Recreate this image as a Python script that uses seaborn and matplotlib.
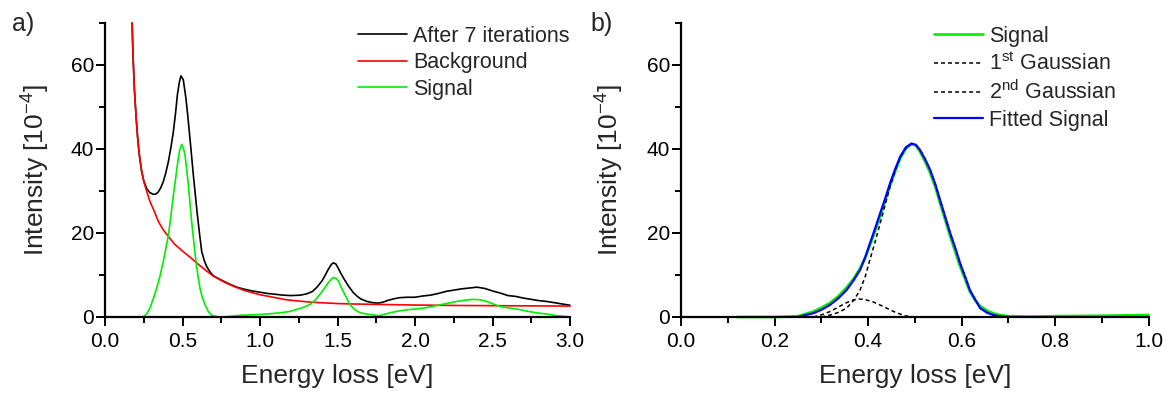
import numpy as np
import pandas as pd
import matplotlib
matplotlib.use("Agg")
import matplotlib.pyplot as plt
import seaborn as sns
from matplotlib.ticker import MultipleLocator

# ---------------- data ----------------
# Panel a
bg_x = [0.175, 0.18, 0.19, 0.20, 0.21, 0.22, 0.235, 0.25, 0.27, 0.29, 0.32, 0.345, 0.375, 0.41, 0.45,
        0.5, 0.55, 0.6, 0.65, 0.7, 0.77, 0.83, 0.9, 1.0, 1.1, 1.17, 1.25, 1.34, 1.45, 1.5, 1.6, 1.75,
        2.0, 2.25, 2.5, 2.75, 3.0]
bg_y = [70, 63, 54, 48, 43, 39, 35, 32.3, 29.8, 27.5, 25.0, 22.7, 20.8, 19.1, 17.3,
        15.7, 14.2, 12.6, 11.1, 9.7, 8.3, 7.3, 6.3, 5.3, 4.6, 4.1, 3.8, 3.5, 3.3, 3.2, 3.1, 3.0,
        2.85, 2.75, 2.7, 2.65, 2.6]

it_x = [0.175, 0.18, 0.19, 0.20, 0.21, 0.22, 0.235, 0.25, 0.27, 0.29, 0.312, 0.33, 0.344, 0.36, 0.376,
        0.392, 0.409, 0.425, 0.441, 0.455, 0.467, 0.48, 0.49, 0.505, 0.522, 0.533, 0.544, 0.557, 0.570,
        0.583, 0.596, 0.61, 0.624, 0.64, 0.656, 0.68, 0.70, 0.75, 0.8, 0.85, 0.9, 0.95, 1.0, 1.05, 1.1,
        1.15, 1.2, 1.26, 1.3, 1.34, 1.37, 1.4, 1.42, 1.44, 1.46, 1.473, 1.49, 1.505, 1.52, 1.54, 1.57,
        1.6, 1.625, 1.65, 1.69, 1.73, 1.765, 1.8, 1.82, 1.86, 1.9, 1.95, 2.0, 2.05, 2.1, 2.15, 2.2, 2.25,
        2.3, 2.35, 2.4, 2.45, 2.5, 2.55, 2.6, 2.65, 2.7, 2.75, 2.8, 2.85, 2.9, 2.95, 3.0]
it_y = [70, 63, 54, 48, 43, 39, 35, 32.4, 30.5, 29.6, 29.2, 29.3, 29.8, 30.8, 32.2,
        34.3, 37.0, 40.3, 44.1, 48.5, 52.9, 56.0, 57.4, 56.5, 52.1, 48.3, 44.1, 39.0, 33.8,
        29.0, 24.3, 19.8, 15.6, 13.5, 12.0, 10.6, 9.8, 8.8, 7.9, 7.1, 6.6, 6.2, 5.9, 5.6, 5.4,
        5.2, 5.1, 5.2, 5.5, 6.1, 7.2, 8.6, 9.9, 11.3, 12.5, 12.9, 12.6, 11.6, 10.5, 9.2, 7.4,
        5.9, 5.0, 4.3, 3.7, 3.4, 3.3, 3.6, 3.9, 4.3, 4.6, 4.7, 4.7, 5.0, 5.2, 5.6, 6.1, 6.4,
        6.7, 6.9, 7.1, 6.8, 6.2, 5.7, 5.1, 4.9, 4.5, 4.2, 3.9, 3.7, 3.4, 3.1, 2.8]

sa_x = [0.17, 0.2, 0.25, 0.27, 0.29, 0.31, 0.333, 0.355, 0.376, 0.392, 0.409, 0.425, 0.441, 0.455, 0.467,
        0.48, 0.495, 0.505, 0.516, 0.527, 0.538, 0.548, 0.559, 0.573, 0.587, 0.6, 0.613, 0.628, 0.645,
        0.665, 0.688, 0.72, 0.742, 0.8, 0.871, 0.94, 1.0, 1.07, 1.13, 1.19, 1.237, 1.28, 1.323, 1.355,
        1.387, 1.415, 1.441, 1.46, 1.473, 1.49, 1.505, 1.527, 1.555, 1.581, 1.61, 1.645, 1.69, 1.731,
        1.763, 1.8, 1.839, 1.89, 1.946, 2.0, 2.054, 2.11, 2.161, 2.215, 2.269, 2.32, 2.376, 2.42, 2.462,
        2.505, 2.548, 2.6, 2.656, 2.72, 2.785, 2.85, 2.914, 2.978, 3.0]
sa_y = [0, 0, 0.1, 0.8, 2.1, 4.2, 6.8, 9.8, 13.2, 16.2, 19.5, 24.0, 29.0, 32.8, 36.2,
        39.5, 41.1, 40.3, 38.6, 35.2, 31.4, 27.2, 22.7, 17.8, 13.2, 9.7, 6.8, 4.6, 2.9,
        1.4, 0.4, 0.1, 0, 0.1, 0.4, 0.5, 0.6, 0.8, 1.0, 1.3, 1.8, 2.3, 3.0, 4.0,
        5.4, 6.8, 8.2, 9.0, 9.4, 9.2, 8.6, 6.8, 4.8, 2.9, 1.8, 1.0, 0.7, 0.5,
        0.3, 0.6, 1.0, 1.4, 1.7, 1.9, 2.1, 2.5, 2.9, 3.3, 3.7, 4.0, 4.2, 4.1, 3.7,
        3.1, 2.5, 2.2, 1.9, 1.4, 1.0, 0.7, 0.3, 0.1, 0.0]

# Panel b
sb_x = [0.12, 0.2, 0.25, 0.283, 0.30, 0.319, 0.337, 0.354, 0.369, 0.383, 0.394, 0.404, 0.415, 0.426,
        0.437, 0.447, 0.458, 0.469, 0.481, 0.493, 0.502, 0.511, 0.522, 0.533, 0.544, 0.554, 0.565,
        0.576, 0.587, 0.597, 0.608, 0.618, 0.629, 0.64, 0.655, 0.67, 0.685, 0.70, 0.75, 0.8, 0.9, 1.0]
sb_y = [0, 0, 0.2, 1.3, 2.2, 3.4, 5.0, 7.0, 9.1, 11.6, 14.1, 17.0, 20.4, 24.0,
        27.7, 31.2, 34.6, 37.8, 40.1, 41.2, 40.9, 39.4, 37.0, 34.3, 30.9, 27.1, 23.1,
        19.1, 15.4, 12.0, 8.9, 6.0, 4.0, 2.6, 1.5, 0.8, 0.4, 0.2, 0.1, 0.2, 0.3, 0.5]

fit_x = [0.25, 0.283, 0.30, 0.319, 0.337, 0.354, 0.369, 0.383, 0.394, 0.404, 0.415, 0.426, 0.437,
         0.447, 0.458, 0.469, 0.481, 0.493, 0.502, 0.511, 0.522, 0.533, 0.544, 0.554, 0.565, 0.576,
         0.587, 0.597, 0.608, 0.618, 0.629, 0.64, 0.655, 0.67, 0.685, 0.70]
fit_y = [0.0, 0.9, 1.7, 2.9, 4.5, 6.4, 8.7, 11.2, 14.2, 17.5, 21.0, 24.7, 28.3,
         31.8, 35.2, 38.2, 40.4, 41.3, 41.0, 39.8, 37.6, 35.0, 31.6, 27.9, 23.9, 19.9,
         16.3, 12.8, 9.5, 6.4, 4.2, 2.1, 1.0, 0.4, 0.1, 0.0]

g1_x = [0.30, 0.32, 0.337, 0.354, 0.369, 0.383, 0.394, 0.404, 0.415, 0.426, 0.437, 0.447, 0.458,
        0.469, 0.481, 0.493, 0.502, 0.511, 0.522, 0.533, 0.544, 0.554, 0.565, 0.576, 0.587, 0.597,
        0.608, 0.618, 0.629, 0.64, 0.655, 0.67, 0.685, 0.70]
g1_y = [0, 0.5, 1.1, 2.1, 3.9, 6.4, 9.6, 13.6, 17.8, 22.3, 26.8, 31.0, 34.8,
        38.0, 40.2, 41.2, 41.0, 39.8, 37.6, 35.0, 31.6, 27.9, 23.9, 19.9, 16.3, 12.8,
        9.5, 6.4, 4.2, 2.1, 1.0, 0.4, 0.1, 0.0]

g2_x = [0.283, 0.30, 0.319, 0.337, 0.354, 0.367, 0.379, 0.392, 0.411, 0.425, 0.44, 0.455, 0.469, 0.48, 0.493]
g2_y = [0, 0.5, 1.3, 2.4, 3.4, 4.0, 4.3, 4.2, 3.6, 2.9, 2.1, 1.3, 0.7, 0.3, 0.0]

labels_a = ["After 7 iterations", "Background", "Signal"]
labels_b = ["Signal", r"1$^{\mathregular{st}}$ Gaussian", r"2$^{\mathregular{nd}}$ Gaussian", "Fitted Signal"]
y_label = r"Intensity [10$^{\mathregular{-4}}$]"
x_label = "Energy loss [eV]"

# ---------------- style ----------------
sns.set_style("ticks")
plt.rcParams["font.family"] = ["Liberation Sans", "DejaVu Sans"]
plt.rcParams["mathtext.fontset"] = "custom"
plt.rcParams["mathtext.rm"] = "Liberation Sans"
plt.rcParams["mathtext.it"] = "Liberation Sans"
plt.rcParams["mathtext.default"] = "regular"

BLACK = "#000000"
RED = "#FF0000"
GREEN = "#00EE00"
BLUE = "#0000FF"

W, H = 1166, 394
fig = plt.figure(figsize=(W / 100, H / 100), dpi=100)
fig.patch.set_facecolor("white")

ax_a = fig.add_axes([105 / W, (H - 317) / H, 465 / W, 294 / H])
ax_b = fig.add_axes([681 / W, (H - 317) / H, 467.5 / W, 294 / H])

dash = (0, (2.6, 2.0))

sns.lineplot(x=it_x, y=it_y, ax=ax_a, color=BLACK, lw=1.2, sort=False, estimator=None, label=labels_a[0])
sns.lineplot(x=bg_x, y=bg_y, ax=ax_a, color=RED, lw=1.2, sort=False, estimator=None, label=labels_a[1])
sns.lineplot(x=sa_x, y=sa_y, ax=ax_a, color=GREEN, lw=1.2, sort=False, estimator=None, label=labels_a[2])

sns.lineplot(x=sb_x, y=sb_y, ax=ax_b, color=GREEN, lw=1.9, sort=False, estimator=None, label=labels_b[0])
sns.lineplot(x=g1_x, y=g1_y, ax=ax_b, color=BLACK, lw=1.1, linestyle=dash, sort=False, estimator=None, label=labels_b[1])
sns.lineplot(x=g2_x, y=g2_y, ax=ax_b, color=BLACK, lw=1.1, linestyle=dash, sort=False, estimator=None, label=labels_b[2])
sns.lineplot(x=fit_x, y=fit_y, ax=ax_b, color=BLUE, lw=1.6, sort=False, estimator=None, label=labels_b[3])

for ax, xmax, xmaj, xmin_, fmt in [(ax_a, 3.0, 0.5, 0.25, "%.1f"), (ax_b, 1.0, 0.2, 0.1, "%.1f")]:
    ax.set_xlim(0, xmax)
    ax.set_ylim(0, 70)
    ax.xaxis.set_major_locator(MultipleLocator(xmaj))
    ax.xaxis.set_minor_locator(MultipleLocator(xmin_))
    ax.yaxis.set_major_locator(MultipleLocator(20))
    ax.yaxis.set_minor_locator(MultipleLocator(10))
    ax.xaxis.set_major_formatter(matplotlib.ticker.FormatStrFormatter(fmt))
    for s in ["top", "right"]:
        ax.spines[s].set_visible(False)
    for s in ["left", "bottom"]:
        ax.spines[s].set_linewidth(1.6)
        ax.spines[s].set_color("black")
    ax.tick_params(axis="both", which="major", direction="out", length=6.5, width=1.4,
                   labelsize=15, colors="black")
    ax.tick_params(axis="both", which="minor", direction="out", length=4.2, width=1.4, colors="black")
    ax.tick_params(axis="x", which="major", pad=4)
    ax.tick_params(axis="y", which="major", pad=1.5)
    ax.set_xlabel(x_label, fontsize=19)
    ax.set_ylabel(y_label, fontsize=19)
    ax.xaxis.set_label_coords(0.5, -0.16)
    ax.set_facecolor("white")
    for l in ax.get_lines():
        l.set_clip_on(False)

ax_a.yaxis.set_label_coords(-0.114, 0.5)
ax_b.yaxis.set_label_coords(-0.118, 0.5)

leg_kw = dict(loc="upper left", frameon=False, fontsize=15.5, handlelength=2.28,
              handletextpad=0.28, borderpad=0, borderaxespad=0, labelspacing=0.25)
ax_a.legend(bbox_to_anchor=((358 - 105) / 465, 1.0 - 3 / 294), **leg_kw)
ax_b.legend(bbox_to_anchor=((934 - 681) / 467.5, 1.0 - 3 / 294), **leg_kw)

fig.text(12 / W, 1 - 24 / H, "a)", fontsize=18, ha="left", va="center")
fig.text(590 / W, 1 - 24 / H, "b)", fontsize=18, ha="left", va="center")

fig.savefig("out.png", dpi=100, facecolor="white")
